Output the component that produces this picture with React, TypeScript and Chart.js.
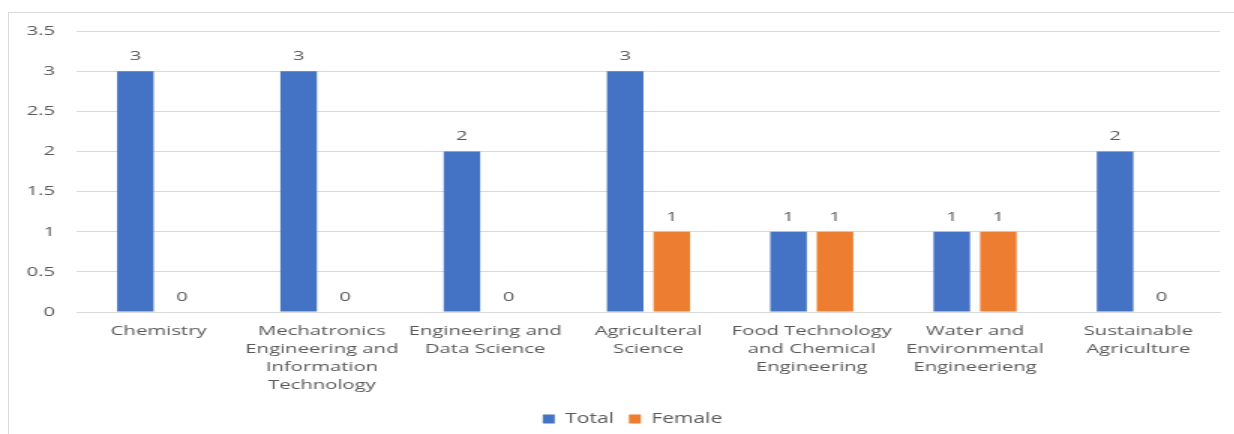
import React, { useEffect, useRef } from "react";
import { Chart, registerables } from "chart.js";
Chart.register(...registerables);

const categories: (string | string[])[] = [
  "Chemistry",
  ["Mechatronics", "Engineering and", "Information", "Technology"],
  ["Engineering and", "Data Science"],
  ["Agriculteral", "Science"],
  ["Food Technology", "and Chemical", "Engineering"],
  ["Water and", "Environmental", "Engineerieng"],
  ["Sustainable", "Agriculture"],
];
const seriesNames = ["Total", "Female"];
const totalValues = [3, 3, 2, 3, 1, 1, 2];
const femaleValues = [0, 0, 0, 1, 1, 1, 0];
const yTicks = [0, 0.5, 1, 1.5, 2, 2.5, 3, 3.5];

const SX = 1.5;
const W = Math.round(1234 / SX);
const H = 434;
const FONT = "'Open Sans', sans-serif";
const TEXT = "#595959";
const GRID = "#d9d9d9";
const FS = 13.5;

const dataLabels = {
  id: "dataLabels",
  afterDatasetsDraw(chart: any) {
    const ctx = chart.ctx;
    ctx.save();
    ctx.font = `${FS}px ${FONT}`;
    ctx.fillStyle = TEXT;
    ctx.textAlign = "center";
    ctx.textBaseline = "alphabetic";
    chart.data.datasets.forEach((ds: any, di: number) => {
      const meta = chart.getDatasetMeta(di);
      meta.data.forEach((bar: any, i: number) => {
        ctx.fillText(String(ds.data[i]), bar.x, bar.y - 11);
      });
    });
    ctx.restore();
  },
};

const legendShift = {
  id: "legendShift",
  afterLayout(chart: any) {
    const lg = chart.legend;
    if (lg) {
      lg.left += 15;
      lg.right += 15;
      lg.top += 2;
      lg.bottom += 2;
    }
  },
};

export default function App() {
  const ref = useRef<HTMLCanvasElement>(null);
  useEffect(() => {
    if (!ref.current) return;
    const chart = new Chart(ref.current, {
      type: "bar",
      data: {
        labels: categories,
        datasets: [
          {
            label: seriesNames[0],
            data: totalValues,
            backgroundColor: "#4472C4",
            categoryPercentage: 0.57,
            barPercentage: 0.785,
          },
          {
            label: seriesNames[1],
            data: femaleValues,
            backgroundColor: "#ED7D31",
            categoryPercentage: 0.57,
            barPercentage: 0.785,
          },
        ],
      },
      options: {
        responsive: false,
        animation: false,
        devicePixelRatio: 1,
        layout: { padding: { top: 31, right: W - 813.33, left: 0, bottom: 0 } },
        plugins: {
          tooltip: { enabled: false },
          legend: {
            position: "bottom",
            labels: {
              font: { family: FONT, size: 14 },
              color: TEXT,
              boxWidth: 8,
              boxHeight: 9,
              padding: 10,
            },
          },
        },
        scales: {
          x: {
            grid: { display: false, drawTicks: false },
            border: { display: true, color: GRID },
            ticks: {
              font: { family: FONT, size: FS, lineHeight: 18 / FS },
              color: TEXT,
              padding: 10,
              maxRotation: 0,
              autoSkip: false,
            },
            afterFit(scale: any) {
              scale.height = 88;
            },
          },
          y: {
            min: yTicks[0],
            max: yTicks[yTicks.length - 1],
            grid: { color: GRID, drawTicks: false },
            border: { display: false },
            ticks: {
              stepSize: yTicks[1] - yTicks[0],
              font: { family: FONT, size: FS },
              color: TEXT,
              padding: 14.67,
              callback: (v: any) => String(v),
            },
            afterFit(scale: any) {
              scale.width = 51.33;
            },
          },
        },
      },
      plugins: [dataLabels, legendShift],
    });
    return () => chart.destroy();
  }, []);
  return (
    <div
      style={{
        position: "absolute",
        left: 0,
        top: 0,
        width: 1234,
        height: 434,
        overflow: "hidden",
        background: "#fff",
      }}
    >
      <div
        style={{
          position: "absolute",
          left: 8,
          top: 12,
          width: 1300,
          height: 500,
          border: `1px solid ${GRID}`,
        }}
      />
      <canvas
        ref={ref}
        width={W}
        height={H}
        style={{
          position: "absolute",
          left: 0,
          top: 0,
          display: "block",
          transform: `scaleX(${SX})`,
          transformOrigin: "0 0",
        }}
      />
    </div>
  );
}
